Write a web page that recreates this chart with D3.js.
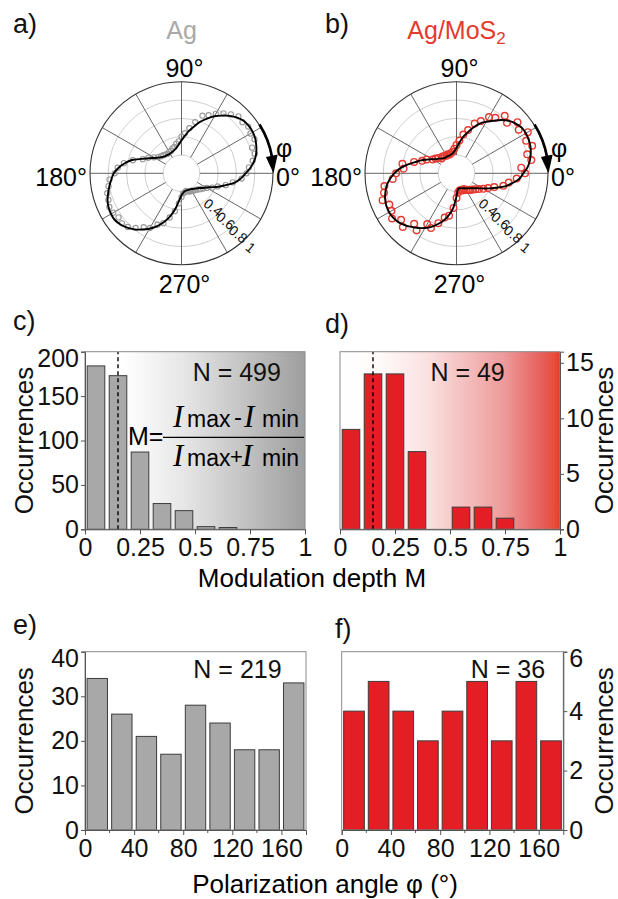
<!DOCTYPE html>
<html><head><meta charset="utf-8">
<script src="https://cdn.jsdelivr.net/npm/d3@7"></script>
<style>
body{margin:0;background:#fff}
svg{display:block;font-family:"Liberation Sans",Arial,Helvetica,sans-serif}
</style>
</head><body>
<svg id="fig" width="618" height="899"></svg>
<script>
// ---------------- DATA ----------------
const polarAngles = [0,5,10,15,20,25,30,35,40,45,50,55,60,65,70,75,80,85,90,95,100,105,110,115,120,125,130,135,140,145,150,155,160,165,170,175,180,185,190,195,200,205,210,215,220,225,230,235,240,245,250,255,260,265,270,275,280,285,290,295,300,305,310,315,320,325,330,335,340,345,350,355];
const agCurve = [.70,.76,.81,.845,.87,.89,.90,.90,.89,.86,.82,.77,.72,.66,.60,.53,.47,.41,.36,.32,.29,.27,.26,.254,.248,.25,.255,.26,.277,.30,.336,.39,.46,.56,.63,.69,.74,.77,.80,.83,.86,.88,.89,.89,.87,.84,.80,.75,.70,.64,.57,.49,.40,.30,.24,.215,.20,.195,.195,.198,.20,.21,.22,.235,.25,.28,.31,.36,.43,.50,.59,.65];
const agPoints = [.71,.74,.79,.83,.82,.88,.87,.89,.87,.88,.84,.80,.75,.70,.67,.58,.50,.44,.40,.35,.33,.30,.29,.27,.27,.26,.27,.28,.29,.31,.35,.40,.45,.55,.64,.70,.73,.79,.81,.84,.85,.87,.86,.84,.85,.83,.78,.72,.69,.62,.58,.50,.42,.33,.26,.22,.21,.20,.21,.22,.22,.23,.24,.25,.27,.29,.32,.37,.42,.50,.57,.66];
const mosCurve = [.73,.78,.815,.84,.86,.87,.875,.87,.845,.81,.76,.70,.65,.60,.53,.46,.40,.33,.28,.245,.225,.215,.21,.21,.21,.21,.217,.23,.25,.27,.31,.355,.415,.47,.545,.62,.68,.73,.775,.805,.83,.845,.85,.845,.83,.80,.765,.73,.69,.645,.59,.53,.46,.37,.25,.18,.165,.17,.175,.18,.19,.20,.215,.23,.255,.285,.33,.39,.46,.55,.62,.69];
const mosPoints = [.75,.71,.83,.80,.88,.84,.90,.83,.87,.78,.82,.74,.71,.63,.58,.49,.43,.36,.31,.27,.24,.23,.22,.23,.22,.23,.24,.23,.26,.28,.30,.36,.40,.48,.60,.58,.66,.70,.80,.82,.86,.81,.82,.86,.79,.83,.72,.76,.64,.66,.58,.50,.47,.38,.27,.21,.19,.19,.20,.19,.21,.22,.24,.25,.27,.30,.34,.38,.44,.53,.58,.66];
const radialTicks = [0.4, 0.6, 0.8, 1];
const radialTickLabels = ["0.4", "0.6", "0.8", "1"];

const mBins = [0,0.1,0.2,0.3,0.4,0.5,0.6,0.7,0.8,0.9];
const mAg = [184,173,87,29,21,3,2,0,0,0];
const mMoS = [9,14,14,7,0,2,2,1,0,0];
const mTicks = [0,0.25,0.5,0.75,1];
const mTickLabels = ["0","0.25","0.5","0.75","1"];
const meanM = [0.15, 0.15];

const phiBins = [0,20,40,60,80,100,120,140,160];
const phiAg = [34,26,21,17,28,24,18,18,33];
const phiMoS = [4,5,4,3,4,5,3,5,3];
const phiTicks = [0,40,80,120,160];
const phiMinorTicks = [20,60,100,140];

const yTicksC = [0,50,100,150,200];
const yTicksD = [0,5,10,15];
const yTicksE = [0,10,20,30,40];
const yTicksF = [0,2,4,6];
const nLabels = ["N = 499","N = 49","N = 219","N = 36"];

// ---------------- STYLE ----------------
const RED = "#e53a30";
const BAR_RED = "#e41e25";
const GRAY_TXT = "#a9a9a9";
const BAR_GRAY = "#a8a8a8";
const svg = d3.select("#fig");
svg.append("rect").attr("width",618).attr("height",899).attr("fill","#fff");

const defs = svg.append("defs");
function grad(id, stops){
  const g = defs.append("linearGradient").attr("id",id).attr("x1",0).attr("x2",1).attr("y1",0).attr("y2",0);
  stops.forEach(s => g.append("stop").attr("offset",s[0]).attr("stop-color",s[1]));
}
grad("gGray", [[0,"#ffffff"],[0.18,"#ffffff"],[0.45,"#e6e6e6"],[0.7,"#c6c6c6"],[1,"#9e9e9e"]]);
grad("gRed", [[0,"#ffffff"],[0.18,"#fffafa"],[0.4,"#fbe0e0"],[0.55,"#f5c2c2"],[0.75,"#ee9999"],[0.93,"#e65a55"],[0.97,"#e8503e"],[1,"#ea3d22"]]);

// ---------------- POLAR ----------------
const R = 91.5;
function polar(cx, cy, curve, pts, ptStyle, title, titleColor, isMos){
  const g = svg.append("g").attr("transform",`translate(${cx},${cy})`);
  const r = d3.scaleLinear().domain([0,1]).range([0,R]);
  const toXY = (deg, v) => [r(v)*Math.cos(deg*Math.PI/180), -r(v)*Math.sin(deg*Math.PI/180)];
  g.selectAll("circle.grid").data([0.2,0.4,0.6,0.8]).join("circle")
    .attr("r", d=>r(d)).attr("fill","none").attr("stroke","#c9c9c9").attr("stroke-width",0.9);
  g.selectAll("line.spoke").data(d3.range(0,360,30)).join("line")
    .attr("x1", d=>toXY(d,0.2)[0]).attr("y1", d=>toXY(d,0.2)[1])
    .attr("x2", d=>toXY(d,1)[0]).attr("y2", d=>toXY(d,1)[1])
    .attr("stroke","#555").attr("stroke-width",0.9);
  g.append("circle").attr("r", r(1)).attr("fill","none").attr("stroke","#333").attr("stroke-width",1.1);
  // radial labels
  g.selectAll("text.rl").data(radialTicks).join("text")
    .attr("transform", (d)=>{ const a=-47*Math.PI/180; const dd=r(d)+10; return `translate(${dd*Math.cos(a)},${-dd*Math.sin(a)}) rotate(39)`;})
    .attr("text-anchor","middle").attr("dominant-baseline","central")
    .attr("font-size",14).attr("fill","#111").text((d,i)=>radialTickLabels[i]);
  // points
  g.selectAll("circle.pt").data(polarAngles.map((a,i)=>[a,pts[i]])).join("circle")
    .attr("cx", d=>toXY(d[0],d[1])[0]).attr("cy", d=>toXY(d[0],d[1])[1])
    .attr("r", ptStyle.r).attr("fill","none").attr("stroke", ptStyle.color).attr("stroke-width", ptStyle.w);
  // fit curve
  const line = d3.lineRadial().angle(d=>(90-d[0])*Math.PI/180).radius(d=>r(d[1]))
    .curve(d3.curveCatmullRomClosed.alpha(0.5));
  g.append("path").attr("d", line(polarAngles.map((a,i)=>[a,curve[i]])))
    .attr("fill","none").attr("stroke","#000").attr("stroke-width",1.9);
  // arrow phi
  const p = d3.path();
  const ra = r(1)+0.5;
  p.arc(0,0,ra,-32*Math.PI/180,-10*Math.PI/180,false);
  g.append("path").attr("d",p.toString()).attr("fill","none").attr("stroke","#000").attr("stroke-width",2.6);
  const th = 11*Math.PI/180;
  const bx = ra*Math.cos(th), by = -ra*Math.sin(th);
  const nx = Math.cos(th), ny = -Math.sin(th);
  g.append("path").attr("d",`M${r(1)+0.5},0 L${bx+6*nx},${by+6*ny} L${bx-6*nx},${by-6*ny} Z`).attr("fill","#000");
  g.append("text").attr("x", r(1)+3).attr("y",-25).attr("dominant-baseline","central")
    .attr("font-size",25).text("φ");
  // angle labels
  const fs = 25;
  g.append("text").attr("x",3).attr("y",-r(1)-5).attr("text-anchor","middle").attr("font-size",fs).text("90°");
  g.append("text").attr("x",3).attr("y",r(1)+28).attr("text-anchor","middle").attr("font-size",fs).text("270°");
  g.append("text").attr("x",-r(1)-3).attr("y",13).attr("text-anchor","end").attr("font-size",fs).text("180°");
  g.append("text").attr("x",r(1)+3).attr("y",13).attr("text-anchor","start").attr("font-size",fs).text("0°");
  // title
  const t = g.append("text").attr("x",0).attr("y",-134).attr("text-anchor","middle").attr("font-size",25).attr("fill",titleColor);
  if(isMos){ t.append("tspan").text("Ag/MoS"); t.append("tspan").attr("font-size",17).attr("dy",5).text("2"); }
  else t.text(title);
}
polar(181.5,173.3,agCurve,agPoints,{r:2.6,color:"#999",w:1.1},"Ag",GRAY_TXT,false);
polar(456.5,173.3,mosCurve,mosPoints,{r:3.3,color:RED,w:1.4},"Ag/MoS2",RED,true);

// ---------------- HISTOGRAMS ----------------
function hist(o){
  const g = svg.append("g");
  const x = d3.scaleLinear().domain(o.xDomain).range([o.left,o.right]);
  const y = d3.scaleLinear().domain(o.yDomain).range([o.bottom,o.top]);
  g.append("rect").attr("x",o.left).attr("y",o.top).attr("width",o.right-o.left).attr("height",o.bottom-o.top)
    .attr("fill", o.bg ? `url(#${o.bg})` : "#fff");
  const data = o.bins.map((b,i)=>({b, v:o.values[i]})).filter(d=>d.v>0);
  g.selectAll("rect.bar").data(data).join("rect")
    .attr("x", d=>x(d.b+o.pad)).attr("width", d=>x(d.b+o.binW-o.pad)-x(d.b+o.pad))
    .attr("y", d=>y(d.v)).attr("height", d=>y(0)-y(d.v))
    .attr("fill", o.fill).attr("stroke","#3c3c3c").attr("stroke-width",1);
  if(o.mean!==undefined){
    g.append("line").attr("x1",x(o.mean)).attr("x2",x(o.mean)).attr("y1",y(0)).attr("y2",o.top)
      .attr("stroke","#000").attr("stroke-width",1.4).attr("stroke-dasharray","4,3");
  }
  g.append("rect").attr("x",o.left).attr("y",o.top).attr("width",o.right-o.left).attr("height",o.bottom-o.top)
    .attr("fill","none").attr("stroke","#8a8a8a").attr("stroke-width",1);
  const xa = g.append("g").attr("transform",`translate(0,${o.bottom})`)
    .call(d3.axisBottom(x).tickValues(o.xTicks).tickFormat((d,i)=>o.xLabels[i]).tickSize(5).tickPadding(4));
  xa.select(".domain").attr("stroke","#555");
  xa.selectAll(".tick line").attr("stroke","#555");
  xa.selectAll("text").attr("font-size",25).attr("font-family","Liberation Sans, Arial, sans-serif").attr("fill","#111");
  if(o.minor){
    g.selectAll("line.minor").data(o.minor).join("line")
      .attr("x1",d=>x(d)).attr("x2",d=>x(d)).attr("y1",o.bottom).attr("y2",o.bottom+3).attr("stroke","#555");
  }
  const ymax = o.yTicks[o.yTicks.length-1];
  const ya = g.append("g").attr("transform",`translate(${o.side==="left"?o.left:o.right},0)`)
    .call((o.side==="left"?d3.axisLeft(y):d3.axisRight(y)).tickValues(o.yTicks).tickFormat(d3.format("d")).tickSize(4).tickPadding(2));
  ya.select(".domain").attr("stroke","#555");
  ya.selectAll(".tick line").attr("stroke","#555");
  ya.selectAll("text").attr("font-size",25).attr("font-family","Liberation Sans, Arial, sans-serif").attr("fill","#111")
    .attr("dy", d => (d===ymax && y(d)-o.top<4) ? "0.6em" : "0.32em");
  g.append("text").attr("x", o.left+(o.right-o.left)*o.nPos[0]).attr("y", o.top+o.nPos[1])
    .attr("text-anchor","middle").attr("font-size",25).attr("fill","#111").text(o.nText);
  g.append("text").attr("transform",`translate(${o.ylabX},${(o.top+o.bottom)/2}) rotate(-90)`)
    .attr("text-anchor","middle").attr("font-size",26).attr("fill","#111").text("Occurrences");
  return {x,y,g};
}

const c = hist({left:85,right:305,top:351.7,bottom:529.3,xDomain:[0,1],yDomain:[0,200],bins:mBins,values:mAg,binW:0.1,pad:0.01,
  fill:BAR_GRAY,bg:"gGray",mean:meanM[0],xTicks:mTicks,xLabels:mTickLabels,yTicks:yTicksC,side:"left",
  nText:nLabels[0],nPos:[0.69,29.5],ylabX:33});
const d = hist({left:340,right:560,top:351.7,bottom:529.3,xDomain:[0,1],yDomain:[0,16],bins:mBins,values:mMoS,binW:0.1,pad:0.01,
  fill:BAR_RED,bg:"gRed",mean:meanM[1],xTicks:mTicks,xLabels:mTickLabels,yTicks:yTicksD,side:"right",
  nText:nLabels[1],nPos:[0.58,29.5],ylabX:613});
const e = hist({left:85,right:306,top:651.7,bottom:830,xDomain:[0,180],yDomain:[0,40],bins:phiBins,values:phiAg,binW:20,pad:1.7,
  fill:BAR_GRAY,bg:null,xTicks:phiTicks,xLabels:phiTicks.map(String),minor:phiMinorTicks,yTicks:yTicksE,side:"left",
  nText:nLabels[2],nPos:[0.69,26.5],ylabX:33});
const f = hist({left:341.7,right:563.3,top:651.7,bottom:830,xDomain:[0,180],yDomain:[0,6],bins:phiBins,values:phiMoS,binW:20,pad:1.6,
  fill:BAR_RED,bg:null,xTicks:phiTicks,xLabels:phiTicks.map(String),minor:phiMinorTicks,yTicks:yTicksF,side:"right",
  nText:nLabels[3],nPos:[0.75,26.5],ylabX:613});

// formula in c
(function(){
  const g = c.g;
  const serif = "Liberation Serif, Times New Roman, serif";
  g.append("text").attr("x",128).attr("y",445).attr("font-size",25).text("M=");
  g.append("line").attr("x1",163).attr("x2",304).attr("y1",437.3).attr("y2",437.3).attr("stroke","#000").attr("stroke-width",1.3);
  const piece = (x,y,txt,isI,fs) => g.append("text").attr("x",x).attr("y",y)
      .attr("font-size",fs).attr("font-family",isI?serif:null).attr("font-style",isI?"italic":null).text(txt);
  piece(173,427,"I",true,31); piece(187,427,"max",false,23); piece(234,425,"-",false,24);
  piece(244,427,"I",true,31); piece(262,427,"min",false,23);
  piece(173,466,"I",true,31); piece(187,466,"max",false,23); piece(230,464,"+",false,22);
  piece(242,466,"I",true,31); piece(262,466,"min",false,23);
})();

svg.append("text").attr("x",312).attr("y",587).attr("text-anchor","middle").attr("font-size",26).text("Modulation depth M");
svg.append("text").attr("x",325).attr("y",893).attr("text-anchor","middle").attr("font-size",26).text("Polarization angle φ (°)");

[["a)",13,33],["b)",325,33],["c)",13,330],["d)",325,333],["e)",13,634],["f)",335,638]].forEach(l=>{
  svg.append("text").attr("x",l[1]).attr("y",l[2]).attr("font-size",27).attr("fill","#111").text(l[0]);
});
</script>
</body></html>
